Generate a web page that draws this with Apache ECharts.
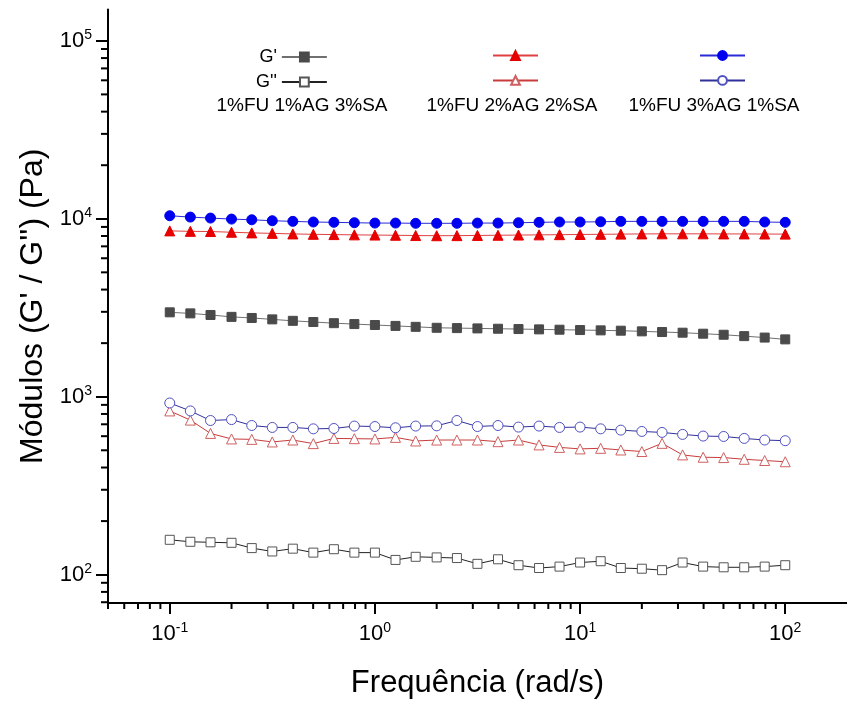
<!DOCTYPE html>
<html>
<head>
<meta charset="utf-8">
<script src="https://cdn.jsdelivr.net/npm/echarts@6/dist/echarts.min.js"></script>
<style>html,body{margin:0;padding:0;background:#fff;}#c{width:847px;height:704px;}</style>
</head>
<body>
<div id="c"></div>
<script>
// ---- data ----
const freq = [0.1,0.126,0.158,0.2,0.251,0.316,0.398,0.501,0.631,0.794,1,1.26,1.58,2,2.51,3.16,3.98,5.01,6.31,7.94,10,12.6,15.8,20,25.1,31.6,39.8,50.1,63.1,79.4,100];
const gp1 = [2980,2940,2880,2810,2770,2720,2670,2630,2590,2560,2530,2500,2470,2440,2430,2420,2410,2400,2390,2380,2370,2360,2350,2330,2310,2290,2260,2230,2190,2150,2100];
const gpp1 = [157,153,152,151,141,135,140,133,139,133,133,121,126,125,124,115,122,113,109,111,117,119,109,108,106,117,111,110,110,111,113];
const gp2 = [8550,8500,8480,8400,8330,8280,8220,8180,8150,8120,8100,8080,8050,8030,8040,8060,8080,8100,8120,8140,8160,8180,8200,8220,8230,8230,8230,8220,8220,8210,8200];
const gpp2 = [832,739,622,579,576,557,571,545,583,581,579,591,564,571,571,571,559,571,536,519,509,513,502,492,547,471,457,455,445,438,431];
const gp3 = [10400,10220,10090,9960,9870,9750,9670,9590,9550,9500,9460,9460,9430,9430,9430,9460,9460,9500,9550,9590,9590,9620,9670,9670,9670,9670,9670,9670,9670,9590,9550];
const gpp3 = [922,832,735,744,689,672,672,660,663,684,680,669,684,686,735,680,689,675,684,672,675,660,649,638,630,614,601,598,583,571,566];
const sampleLabels = ['1%FU 1%AG 3%SA','1%FU 2%AG 2%SA','1%FU 3%AG 1%SA'];
const xMajor = [0.1,1,10,100];
const yMajor = [100,1000,10000,100000];
const xMinor = [0.05,0.06,0.07,0.08,0.09,0.2,0.3,0.4,0.5,0.6,0.7,0.8,0.9,2,3,4,5,6,7,8,9,20,30,40,50,60,70,80,90];
const yMinor = [70,80,90,200,300,400,500,600,700,800,900,2000,3000,4000,5000,6000,7000,8000,9000,20000,30000,40000,50000,60000,70000,80000,90000];
const X_MIN = 0.05, X_MAX = 200, Y_MIN = 69.3, Y_MAX = 150000;

const FONT = '"Liberation Sans", Arial, sans-serif';
const pair = (ys) => freq.map((f, i) => [f, ys[i]]);

function expLabel(v) {
  const e = Math.round(Math.log10(v));
  return '{b|10}{s|' + e + '}';
}
const richLab = {
  b: { fontSize: 22, fontFamily: FONT, color: '#000' },
  s: { fontSize: 14, fontFamily: FONT, color: '#000', padding: [0, 0, 12, 0] }
};

function lineSeries(name, ys, symbol, size, lineColor, fill, stroke) {
  return {
    name: name, type: 'line', data: pair(ys), symbol: symbol, symbolSize: size,
    showAllSymbol: true,
    lineStyle: { color: lineColor, width: 1 },
    itemStyle: { color: fill, borderColor: stroke, borderWidth: 1 },
    emphasis: { disabled: true }, animation: false, z: 3
  };
}

const chart = echarts.init(document.getElementById('c'), null, { renderer: 'canvas' });

const labelX = [302, 512, 714];

const option = {
  animation: false,
  backgroundColor: '#fff',
  textStyle: { fontFamily: FONT },
  grid: { left: 108, right: 0, top: 9.5, bottom: 96.5, containLabel: false },
  xAxis: {
    type: 'log', logBase: 10, min: X_MIN, max: X_MAX,
    name: 'Frequência (rad/s)', nameLocation: 'middle', nameGap: 65,
    nameTextStyle: { fontSize: 31, fontFamily: FONT, color: '#000' },
    axisLine: { lineStyle: { color: '#000', width: 2 } },
    axisTick: { show: true, inside: false, length: 11, lineStyle: { color: '#000', width: 2 }, customValues: xMajor },
    axisLabel: { customValues: xMajor, formatter: expLabel, rich: richLab, margin: 18 },
    splitLine: { show: false }, minorTick: { show: false }
  },
  yAxis: {
    type: 'log', logBase: 10, min: Y_MIN, max: Y_MAX,
    name: "Módulos (G' / G'') (Pa)", nameLocation: 'middle', nameGap: 47, nameRotate: 90,
    nameTextStyle: { fontSize: 32, fontFamily: FONT, color: '#000' },
    axisLine: { lineStyle: { color: '#000', width: 2 } },
    axisTick: { show: true, inside: false, length: 12, lineStyle: { color: '#000', width: 2 }, customValues: yMajor },
    axisLabel: { customValues: yMajor, formatter: expLabel, rich: richLab, margin: 16 },
    splitLine: { show: false }, minorTick: { show: false }
  },
  legend: [
    { orient: 'vertical', left: 251, top: 43, align: 'right', itemWidth: 45, itemHeight: 11, itemGap: 7,
      textStyle: { fontSize: 18, fontFamily: FONT, color: '#000' }, selectedMode: false,
      data: ["G'", "G''"] },
    { orient: 'vertical', left: 487, top: 45, align: 'left', itemWidth: 45, itemHeight: 11, itemGap: 14,
      textStyle: { fontSize: 18, fontFamily: FONT, color: '#000' }, selectedMode: false,
      formatter: () => '', data: ["G' b", "G'' b"] },
    { orient: 'vertical', left: 694, top: 45, align: 'left', itemWidth: 45, itemHeight: 11, itemGap: 14,
      textStyle: { fontSize: 18, fontFamily: FONT, color: '#000' }, selectedMode: false,
      formatter: () => '', data: ["G' c", "G'' c"] }
  ],
  graphic: sampleLabels.map((t, i) => ({
    type: 'text', x: labelX[i], y: 96, z: 10,
    style: { text: t, font: '19px ' + FONT, fill: '#000', textAlign: 'center' }
  })),
  series: [
    lineSeries("G'", gp1, 'rect', 9, '#707070', '#4a4a4a', '#4a4a4a'),
    lineSeries("G''", gpp1, 'rect', 9, '#222222', '#ffffff', '#555555'),
    lineSeries("G' b", gp2, 'triangle', 10, '#e04040', '#e60000', '#e60000'),
    lineSeries("G'' b", gpp2, 'triangle', 10, '#c83c3c', '#ffffff', '#d06060'),
    lineSeries("G' c", gp3, 'circle', 10, '#2a2ad8', '#0000f0', '#0000f0'),
    lineSeries("G'' c", gpp3, 'circle', 10, '#30309a', '#ffffff', '#5050c0'),
    {
      type: 'custom', silent: true, clip: false, z: 5, animation: false,
      data: xMinor.map(v => [v, Y_MIN]),
      renderItem: (params, api) => {
        const p = api.coord([api.value(0), api.value(1)]);
        return { type: 'line', shape: { x1: p[0], y1: p[1], x2: p[0], y2: p[1] + 6 }, style: { stroke: '#000', lineWidth: 2 } };
      }
    },
    {
      type: 'custom', silent: true, clip: false, z: 5, animation: false,
      data: yMinor.map(v => [X_MIN, v]),
      renderItem: (params, api) => {
        const p = api.coord([api.value(0), api.value(1)]);
        return { type: 'line', shape: { x1: p[0] - 7, y1: p[1], x2: p[0], y2: p[1] }, style: { stroke: '#000', lineWidth: 2 } };
      }
    }
  ]
};
chart.setOption(option);
</script>
</body>
</html>
